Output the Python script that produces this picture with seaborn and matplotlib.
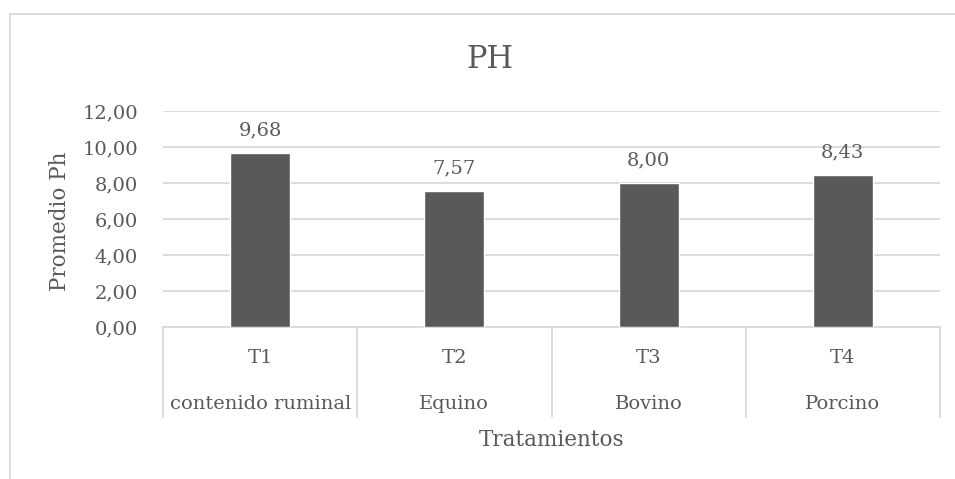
import matplotlib
matplotlib.use("Agg")
import matplotlib.pyplot as plt
from matplotlib.patches import Rectangle
import matplotlib.transforms as mtransforms
import seaborn as sns
import pandas as pd

# Data
tratamientos = ["T1", "T2", "T3", "T4"]
origen = ["contenido ruminal", "Equino", "Bovino", "Porcino"]
promedio_ph = [9.68, 7.57, 8.00, 8.43]
y_ticks = [0, 2, 4, 6, 8, 10, 12]

df = pd.DataFrame({"Tratamiento": tratamientos, "Promedio": promedio_ph})

sns.set_theme(style="white")
plt.rcParams["font.family"] = ["DejaVu Serif", "Liberation Serif"]

TEXT = "#595959"
GRID = "#D9D9D9"
BAR = "#595959"
FS = 14

fig = plt.figure(figsize=(9.55, 4.79), dpi=100)
W, H = 955, 479

# Outer chart frame
fig.patches.append(Rectangle((9.5 / W, -0.1), 1.2, 1 - 14.5 / H + 0.1,
                             transform=fig.transFigure, fill=False,
                             edgecolor=GRID, linewidth=1.3, zorder=0))

ax = fig.add_axes([163 / W, 1 - 327 / H, (940 - 163) / W, (327 - 111) / H])

sns.barplot(data=df, x="Tratamiento", y="Promedio", color=BAR,
            width=0.31, saturation=1, ax=ax, zorder=3)

ax.set_xlim(-0.5, len(tratamientos) - 0.5)
ax.set_ylim(0, 12)
ax.set_yticks(y_ticks)
ax.set_yticklabels([f"{v:.2f}".replace(".", ",") for v in y_ticks],
                   fontsize=FS, color=TEXT)
ax.tick_params(axis="y", length=0, pad=18)
ax.grid(axis="y", color=GRID, linewidth=1.3, zorder=0)
ax.set_axisbelow(True)
ax.set_ylabel("")
ax.set_xlabel("")

for s in ["top", "right", "left"]:
    ax.spines[s].set_visible(False)
ax.spines["bottom"].set_color(GRID)
ax.spines["bottom"].set_linewidth(1.3)

# Value labels on bars
for i, v in enumerate(promedio_ph):
    ax.text(i, v + 0.75, f"{v:.2f}".replace(".", ","), ha="center",
            va="bottom", fontsize=FS, color=TEXT)

# Two-level category axis
ax.set_xticks([])
trans = mtransforms.blended_transform_factory(ax.transData, ax.transAxes)
px = 1 / (327 - 111)
for k in range(len(tratamientos) + 1):
    ax.plot([k - 0.5, k - 0.5], [0, -(417 - 327) * px], transform=trans,
            color=GRID, linewidth=1.3, clip_on=False)
for i, (t, o) in enumerate(zip(tratamientos, origen)):
    ax.text(i, -(358 - 327) * px, t, transform=trans, ha="center",
            va="center", fontsize=FS, color=TEXT)
    ax.text(i, -(404 - 327) * px, o, transform=trans, ha="center",
            va="center", fontsize=FS, color=TEXT)

fig.text(0.5 * (163 + 940) / W, 1 - 440 / H, "Tratamientos", ha="center",
         va="center", fontsize=15.5, color=TEXT)
fig.text(60 / W, 1 - 221 / H, "Promedio Ph", rotation=90, ha="center",
         va="center", fontsize=15.5, color=TEXT)
fig.text(490 / W, 1 - 60 / H, "PH", ha="center", va="center",
         fontsize=22, color=TEXT)

fig.savefig("out.png", dpi=100)
